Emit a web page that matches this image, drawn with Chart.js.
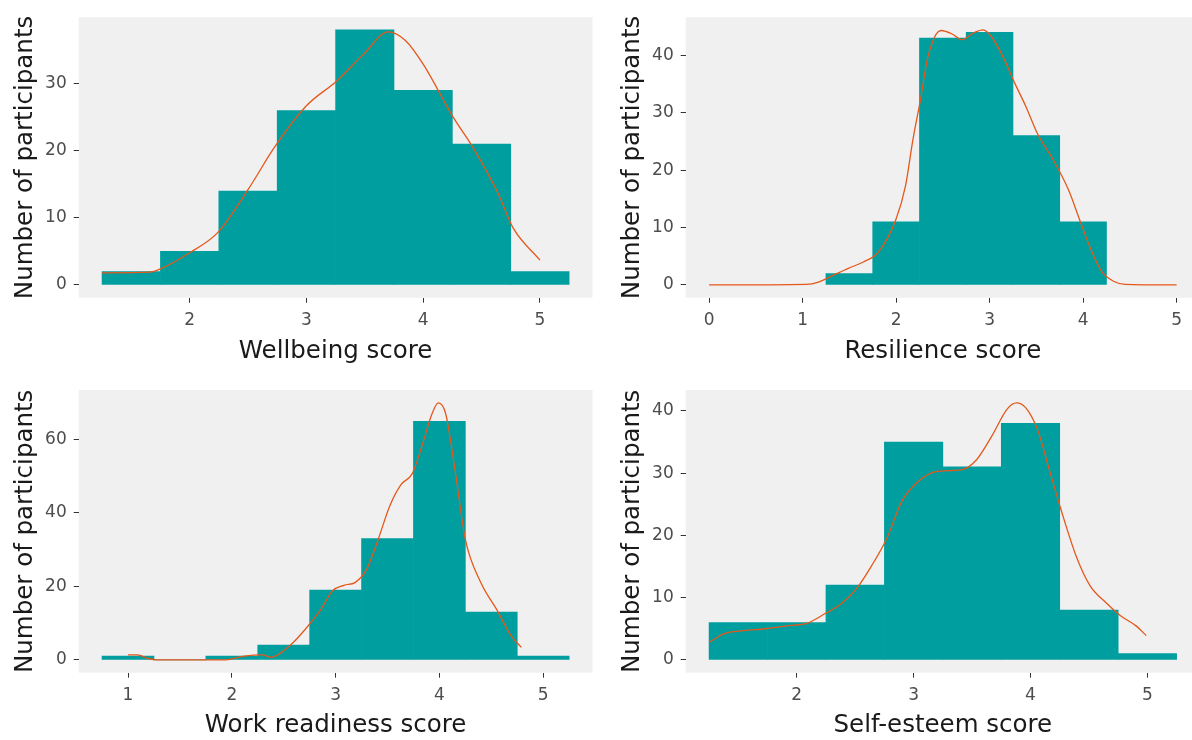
<!DOCTYPE html>
<html>
<head>
<meta charset="utf-8">
<script src="https://cdn.jsdelivr.net/npm/chart.js@4"></script>
<style>
  html, body { margin: 0; padding: 0; background: #fff; overflow: hidden; width: 1192px; height: 740px; }
  .panel { position: absolute; }
</style>
</head>
<body>
<div class="panel" style="left:0px;top:0px;width:596px;height:370px"><canvas id="wellbeing"></canvas></div>
<div class="panel" style="left:600px;top:0px;width:612px;height:370px"><canvas id="resilience"></canvas></div>
<div class="panel" style="left:0px;top:370px;width:596px;height:370px"><canvas id="work"></canvas></div>
<div class="panel" style="left:600px;top:370px;width:612px;height:370px"><canvas id="selfesteem"></canvas></div>
<script>
// histogram bins (centres, width 0.5) and counts
const wellbeingBins = [1.5, 2, 2.5, 3, 3.5, 4, 4.5, 5];
const wellbeingCounts = [2, 5, 14, 26, 38, 29, 21, 2];
const resilienceBins = [1.5, 2, 2.5, 3, 3.5, 4];
const resilienceCounts = [2, 11, 43, 44, 26, 11];
const workBins = [1, 1.5, 2, 2.5, 3, 3.5, 4, 4.5, 5];
const workCounts = [1, 0, 1, 4, 19, 33, 65, 13, 1];
const selfBins = [1.5, 2, 2.5, 3, 3.5, 4, 4.5, 5];
const selfCounts = [6, 6, 12, 35, 31, 38, 8, 1];

// density curves (scaled to counts)
const wellbeingDensX = [1.25, 1.65, 1.75, 2.0, 2.24, 2.5, 2.73, 3.0, 3.26, 3.49, 3.70, 3.85, 4.0, 4.25, 4.44, 4.64, 4.77, 5.0];
const wellbeingDensY = [1.8, 1.9, 2.4, 4.8, 7.8, 14.2, 20.6, 26.7, 30.4, 34.4, 37.7, 36.4, 32.9, 25.2, 20.1, 13.7, 8.5, 3.7];
const resilienceDensX = [0, 1.04, 1.17, 1.33, 1.49, 1.65, 1.81, 2.0, 2.10, 2.18, 2.26, 2.34, 2.48, 2.60, 2.70, 2.83, 2.93, 3.03, 3.15, 3.27, 3.39, 3.51, 3.68, 3.84, 3.96, 4.08, 4.20, 4.33, 4.45, 5];
const resilienceDensY = [0, 0.1, 0.5, 1.7, 2.9, 4.0, 5.7, 11.5, 17.2, 25.3, 32.2, 39.7, 44.3, 43.7, 42.7, 43.9, 44.4, 43.0, 39.5, 35.1, 31.0, 26.4, 21.8, 16.7, 11.5, 6.3, 2.3, 0.6, 0.1, 0];
const workDensX = [1.0, 1.09, 1.2, 1.28, 1.61, 1.94, 2.12, 2.3, 2.38, 2.56, 2.71, 2.86, 2.97, 3.08, 3.19, 3.30, 3.41, 3.52, 3.63, 3.74, 3.83, 3.93, 3.99, 4.06, 4.15, 4.25, 4.40, 4.55, 4.69, 4.79];
const workDensY = [1.35, 1.35, 0.3, 0, 0, 0, 1.0, 1.35, 0.7, 3.9, 8.4, 13.8, 18.8, 20.3, 21.1, 24.7, 32.8, 41.8, 47.7, 50.8, 58.1, 67.1, 70.0, 67.1, 51.8, 32.8, 21.0, 13.8, 6.6, 3.4];
const selfDensX = [1.25, 1.38, 1.54, 1.73, 1.93, 2.09, 2.24, 2.38, 2.51, 2.64, 2.77, 2.90, 3.03, 3.16, 3.29, 3.42, 3.54, 3.67, 3.80, 3.88, 3.96, 4.06, 4.16, 4.26, 4.39, 4.51, 4.64, 4.77, 4.90, 4.99];
const selfDensY = [2.8, 4.2, 4.7, 5.0, 5.5, 5.9, 7.4, 9.0, 11.4, 15.1, 19.5, 25.5, 28.5, 30.1, 30.4, 30.6, 32.2, 36.0, 40.3, 41.3, 40.5, 37.0, 30.6, 24.2, 16.7, 11.9, 9.3, 7.1, 5.5, 3.9];

// tick labels
const wellbeingXTicks = [2, 3, 4, 5];
const wellbeingYTicks = [0, 10, 20, 30];
const resilienceXTicks = [0, 1, 2, 3, 4, 5];
const resilienceYTicks = [0, 10, 20, 30, 40];
const workXTicks = [1, 2, 3, 4, 5];
const workYTicks = [0, 20, 40, 60];
const selfXTicks = [2, 3, 4, 5];
const selfYTicks = [0, 10, 20, 30, 40];

const FONT = "'DejaVu Sans', sans-serif";
const binWidth = 0.5;

// grey panel background like ggplot
const panelBg = {
    id: 'panelBg',
    beforeDraw(chart) {
        const a = chart.chartArea;
        const ctx = chart.ctx;
        ctx.save();
        ctx.fillStyle = '#F0F0F0';
        ctx.fillRect(a.left, a.top, a.right - a.left, a.bottom - a.top);
        ctx.restore();
    }
};

function histChart(id, p) {
    const lo = Math.min(p.bins[0] - binWidth / 2, p.densX[0]);
    const hi = Math.max(p.bins[p.bins.length - 1] + binWidth / 2, p.densX[p.densX.length - 1]);
    const top = Math.max(...p.counts, ...p.densY);
    const xPad = (hi - lo) * 0.05;

    new Chart(document.getElementById(id), {
        data: {
            datasets: [{
                type: 'line',
                data: p.densX.map((x, i) => ({ x: x, y: p.densY[i] })),
                borderColor: '#E5581B',
                borderWidth: 1.3,
                pointRadius: 0,
                cubicInterpolationMode: 'monotone',
                order: 0
            }, {
                type: 'bar',
                data: p.bins.map((x, i) => ({ x: x, y: p.counts[i] })),
                backgroundColor: '#009E9E',
                borderWidth: 0,
                barPercentage: 1,
                categoryPercentage: 1,
                order: 1
            }]
        },
        options: {
            responsive: true,
            maintainAspectRatio: false,
            animation: false,
            layout: { padding: p.padding },
            plugins: { legend: { display: false }, tooltip: { enabled: false } },
            scales: {
                x: {
                    type: 'linear',
                    min: lo - xPad,
                    max: hi + xPad,
                    offset: false,
                    afterBuildTicks: s => { s.ticks = p.xTicks.map(v => ({ value: v })); },
                    afterFit: s => { s.height = p.xHeight; },
                    grid: { offset: false, drawOnChartArea: false, drawTicks: true, tickLength: 5, tickColor: '#333333' },
                    border: { display: false },
                    ticks: { font: { family: FONT, size: 17 }, color: '#4D4D4D', padding: 8, maxRotation: 0 },
                    title: { display: true, text: p.xTitle, font: { family: FONT, size: 24.5 }, color: '#1A1A1A', padding: { top: 0, bottom: p.xTitlePad } }
                },
                y: {
                    min: -top * 0.05,
                    max: top * 1.05,
                    afterBuildTicks: s => { s.ticks = p.yTicks.map(v => ({ value: v })); },
                    afterFit: s => { s.width = 78.7; },
                    grid: { drawOnChartArea: false, drawTicks: true, tickLength: 5, tickColor: '#333333' },
                    border: { display: false },
                    ticks: { font: { family: FONT, size: 17 }, color: '#4D4D4D', padding: 7 },
                    title: { display: true, text: 'Number of participants', font: { family: FONT, size: 24.5 }, color: '#1A1A1A', padding: { top: 10.8, bottom: 0 } }
                }
            }
        },
        plugins: [panelBg]
    });
}

histChart('wellbeing', {
    bins: wellbeingBins, counts: wellbeingCounts, densX: wellbeingDensX, densY: wellbeingDensY,
    xTicks: wellbeingXTicks, yTicks: wellbeingYTicks, xTitle: 'Wellbeing score',
    padding: { left: 0, top: 15, right: 3.5, bottom: 0 }, xHeight: 72.3, xTitlePad: 4
});
histChart('resilience', {
    bins: resilienceBins, counts: resilienceCounts, densX: resilienceDensX, densY: resilienceDensY,
    xTicks: resilienceXTicks, yTicks: resilienceYTicks, xTitle: 'Resilience score',
    padding: { left: 7, top: 15, right: 12, bottom: 0 }, xHeight: 72.3, xTitlePad: 4
});
histChart('work', {
    bins: workBins, counts: workCounts, densX: workDensX, densY: workDensY,
    xTicks: workXTicks, yTicks: workYTicks, xTitle: 'Work readiness score',
    padding: { left: 0, top: 20, right: 3.5, bottom: 0 }, xHeight: 67.3, xTitlePad: 0
});
histChart('selfesteem', {
    bins: selfBins, counts: selfCounts, densX: selfDensX, densY: selfDensY,
    xTicks: selfXTicks, yTicks: selfYTicks, xTitle: 'Self-esteem score',
    padding: { left: 7, top: 20, right: 12, bottom: 0 }, xHeight: 67.3, xTitlePad: 0
});
</script>
</body>
</html>
